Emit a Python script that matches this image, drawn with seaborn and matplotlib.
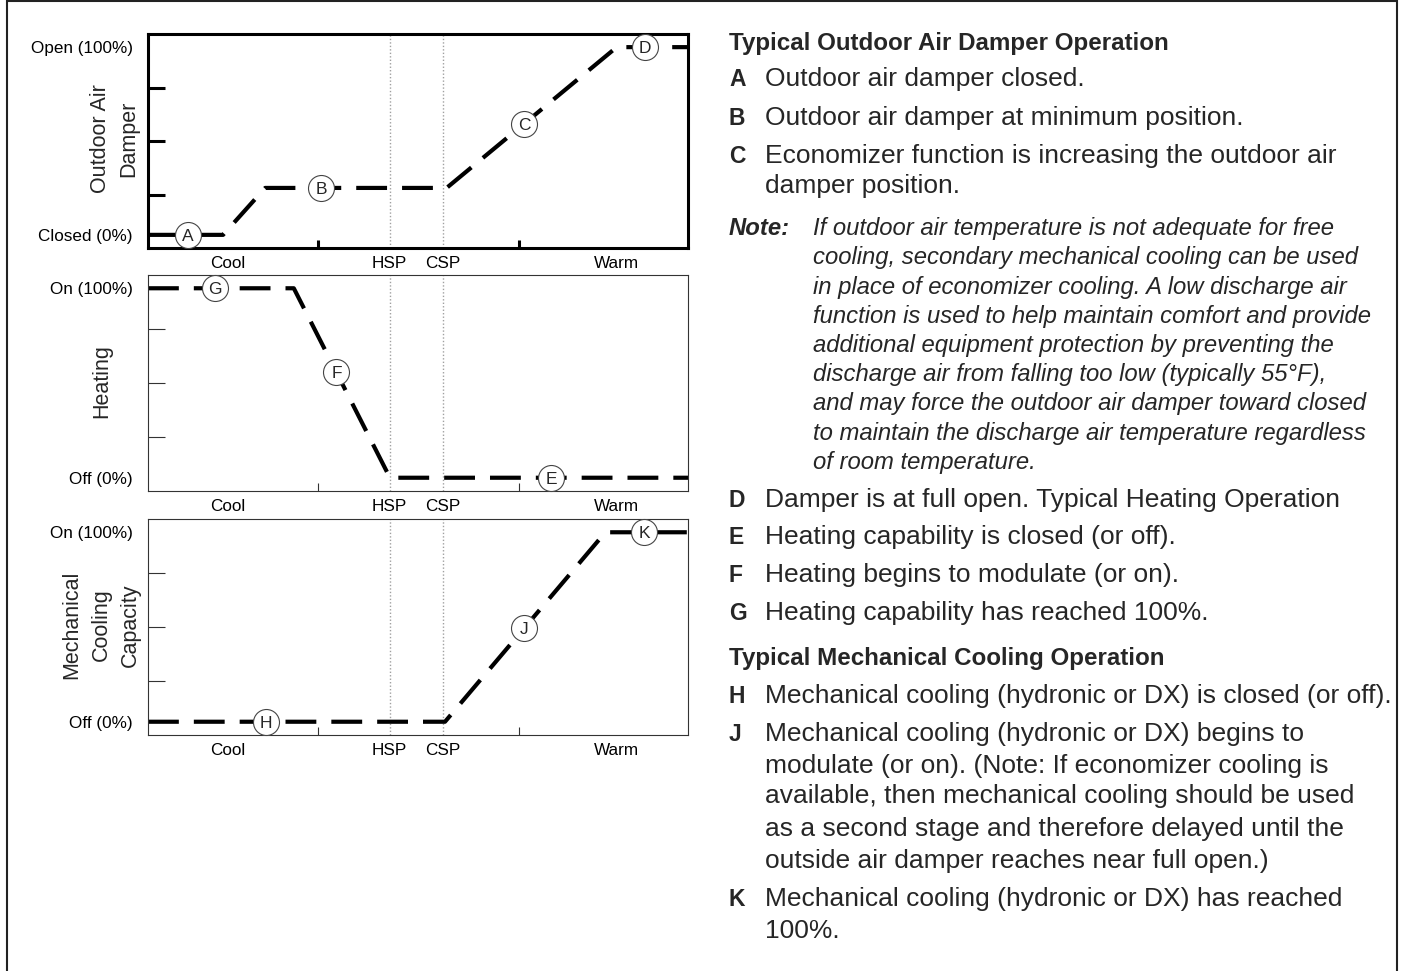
import numpy as np
import pandas as pd
import matplotlib
matplotlib.use("Agg")
import matplotlib.pyplot as plt
import seaborn as sns
from matplotlib.patches import Rectangle

sns.set_style("white")
plt.rcParams["font.family"] = ["Liberation Sans", "DejaVu Sans"]

# ---- sequence-of-operation curves (x: Cool -> Warm on a 0-100 scale, y: % output) ----
damper_x = [0, 13.9, 21.7, 55.3, 86.8, 100]
damper_y = [0, 0, 25, 25, 100, 100]
heating_x = [0, 27.0, 44.8, 100]
heating_y = [100, 100, 0, 0]
cooling_x = [0, 55.0, 84.7, 100]
cooling_y = [0, 0, 100, 100]

# callout letters and where they sit along each curve
damper_tags = ["A", "B", "C", "D"]
damper_tag_x = [7.4, 32.1, 69.7, 92.1]
heating_tags = ["G", "F", "E"]
heating_tag_x = [12.4, 34.9, 74.7]
cooling_tags = ["H", "J", "K"]
cooling_tag_x = [21.8, 69.7, 91.9]

# temperature axis labels and reference setpoints
x_labels = ["Cool", "HSP", "CSP", "Warm"]
x_label_pos = [14.7, 44.6, 54.5, 86.8]
setpoints = [44.8, 54.7]
x_minor = [31.5, 68.7]

# legend text on the right
title1 = "Typical Outdoor Air Damper Operation"
items1 = [("A", ["Outdoor air damper closed."]),
          ("B", ["Outdoor air damper at minimum position."]),
          ("C", ["Economizer function is increasing the outdoor air",
                 "damper position."])]
note_lines = ["If outdoor air temperature is not adequate for free",
              "cooling, secondary mechanical cooling can be used",
              "in place of economizer cooling. A low discharge air",
              "function is used to help maintain comfort and provide",
              "additional equipment protection by preventing the",
              "discharge air from falling too low (typically 55°F),",
              "and may force the outdoor air damper toward closed",
              "to maintain the discharge air temperature regardless",
              "of room temperature."]
items2 = [("D", ["Damper is at full open. Typical Heating Operation"]),
          ("E", ["Heating capability is closed (or off)."]),
          ("F", ["Heating begins to modulate (or on)."]),
          ("G", ["Heating capability has reached 100%."])]
title2 = "Typical Mechanical Cooling Operation"
items3 = [("H", ["Mechanical cooling (hydronic or DX) is closed (or off)."]),
          ("J", ["Mechanical cooling (hydronic or DX) begins to",
                 "modulate (or on). (Note: If economizer cooling is",
                 "available, then mechanical cooling should be used",
                 "as a second stage and therefore delayed until the",
                 "outside air damper reaches near full open.)"]),
          ("K", ["Mechanical cooling (hydronic or DX) has reached",
                 "100%."])]

W, H = 1403, 971
fig = plt.figure(figsize=(W / 100, H / 100), dpi=100)
fig.patch.set_facecolor("white")


def px_axes(x0, y0, x1, y1):
    return fig.add_axes([x0 / W, 1 - y1 / H, (x1 - x0) / W, (y1 - y0) / H])


YLIM = (-7, 107)
panels = [
    dict(box=(148, 34, 688, 248), x=damper_x, y=damper_y, tags=damper_tags, tag_x=damper_tag_x,
         ylab=["Closed (0%)", "Open (100%)"], title=["Outdoor Air", "Damper"], tx=[100, 129],
         spine_w=2.2, spine_c="black"),
    dict(box=(148, 275, 688, 491), x=heating_x, y=heating_y, tags=heating_tags, tag_x=heating_tag_x,
         ylab=["Off (0%)", "On (100%)"], title=["Heating"], tx=[102],
         spine_w=0.8, spine_c="#333333"),
    dict(box=(148, 519, 688, 735), x=cooling_x, y=cooling_y, tags=cooling_tags, tag_x=cooling_tag_x,
         ylab=["Off (0%)", "On (100%)"], title=["Mechanical", "Cooling", "Capacity"], tx=[72, 101, 130],
         spine_w=0.8, spine_c="#333333"),
]

for p in panels:
    x0, y0, x1, y1 = p["box"]
    ax = px_axes(x0, y0, x1, y1)
    ax.set_xlim(0, 100)
    ax.set_ylim(*YLIM)

    for xv in setpoints:
        ax.axvline(xv, color="#a0a0a0", lw=1.0, ls=(0, (1, 1.5)), zorder=1)

    df = pd.DataFrame({"x": p["x"], "y": p["y"]})
    sns.lineplot(data=df, x="x", y="y", ax=ax, color="black", linewidth=3,
                 estimator=None, sort=False, legend=False, zorder=2)
    ln = ax.get_lines()[-1]
    ln.set_linestyle((0, (7.4, 3.6)))
    ln.set_clip_on(False)

    ty = np.interp(p["tag_x"], p["x"], p["y"])
    ax.scatter(p["tag_x"], ty, s=350, facecolor="white", edgecolor="#444444",
               linewidth=0.8, zorder=3, clip_on=False)
    for t, xv, yv in zip(p["tags"], p["tag_x"], ty):
        ax.text(xv, yv, t, ha="center", va="center_baseline", fontsize=12.5, zorder=4)

    for s in ax.spines.values():
        s.set_linewidth(p["spine_w"])
        s.set_color(p["spine_c"])
        s.set_visible(True)

    ax.set_yticks([0, 100])
    ax.set_yticklabels(p["ylab"], fontsize=12.3)
    ax.set_xticks(x_label_pos)
    ax.set_xticklabels(x_labels, fontsize=12.3)
    ax.set_yticks([YLIM[0] + k * (YLIM[1] - YLIM[0]) / 4 for k in (1, 2, 3)], minor=True)
    ax.set_xticks(x_minor, minor=True)
    ax.tick_params(axis="both", which="major", length=0, pad=6, colors="black")
    ax.tick_params(axis="y", which="major", pad=11)
    ax.tick_params(axis="y", which="minor", direction="in", length=12.5,
                   width=p["spine_w"], color=p["spine_c"], left=True)
    ax.tick_params(axis="x", which="minor", direction="in", length=6,
                   width=p["spine_w"], color=p["spine_c"], bottom=True)
    ax.set_xlabel("")
    ax.set_ylabel("")

    # stacked rotated axis title
    for line, tx in zip(p["title"], p["tx"]):
        ax.text((tx - x0) / (x1 - x0), 0.51, line, transform=ax.transAxes, rotation=90,
                ha="center", va="center", fontsize=15.5)

# ---- explanatory text ----
LX, TX = 729, 765
FS, FS_T, FS_N, FS_L = 19, 17.4, 17.2, 16.5


def put(x, base, s, **kw):
    fig.text(x / W, 1 - base / H, s, va="baseline", ha="left", **kw)


put(LX, 50, title1, fontsize=FS_T, fontweight="bold")
bases1 = [[86], [125], [163, 193]]
for (tag, lines), bl in zip(items1, bases1):
    put(LX, bl[0], tag, fontsize=FS_L, fontweight="bold")
    for s, b in zip(lines, bl):
        put(TX, b, s, fontsize=FS)

note_base = [235, 264, 294, 323, 352, 381, 410, 440, 469]
put(LX, note_base[0], "Note:", fontsize=FS_N, fontweight="bold", style="italic")
for s, b in zip(note_lines, note_base):
    put(813, b, s, fontsize=FS_N, style="italic")

bases2 = [[507], [544], [582], [620]]
for (tag, lines), bl in zip(items2, bases2):
    put(LX, bl[0], tag, fontsize=FS_L, fontweight="bold")
    for s, b in zip(lines, bl):
        put(TX, b, s, fontsize=FS)

put(LX, 665, title2, fontsize=FS_T, fontweight="bold")
bases3 = [[703], [741, 773, 803, 836, 868], [906, 938]]
for (tag, lines), bl in zip(items3, bases3):
    put(LX, bl[0], tag, fontsize=FS_L, fontweight="bold")
    for s, b in zip(lines, bl):
        put(TX, b, s, fontsize=FS)

# page frame (open at the bottom edge)
fig.add_artist(Rectangle((7 / W, -0.01), (1397 - 7) / W, 1.0 - 1.5 / H + 0.01,
                         transform=fig.transFigure, fill=False,
                         edgecolor="#222222", linewidth=1.5))

fig.savefig("out.png", dpi=100, facecolor="white")
